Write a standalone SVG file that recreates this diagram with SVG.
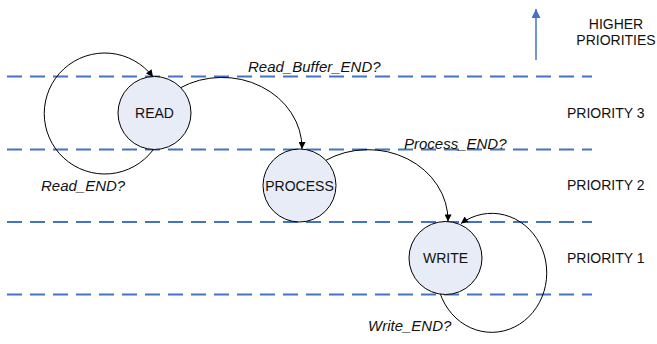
<svg xmlns="http://www.w3.org/2000/svg" width="657" height="344" viewBox="0 0 657 344">
<style>
.lvl{stroke:#4472c4;stroke-width:2;stroke-dasharray:15 8;fill:none}
.edge{stroke:#000;stroke-width:1;fill:none;marker-end:url(#ah)}
.node{fill:#e7ecf7;stroke:#000;stroke-width:1}
.t{font-family:"Liberation Sans",Arial,sans-serif;font-size:14px;fill:#111}
.lab{font-family:"Liberation Sans",Arial,sans-serif;font-size:15px;font-style:italic;fill:#111}
</style>
<defs>
<marker id="ah" viewBox="0 0 10 10" refX="10" refY="5" markerWidth="9" markerHeight="7" markerUnits="userSpaceOnUse" orient="auto">
<path d="M0,0 L10,5 L0,10 z" fill="#000"/>
</marker>
<marker id="bah" viewBox="0 0 10 10" refX="10" refY="5" markerWidth="12" markerHeight="9" markerUnits="userSpaceOnUse" orient="auto">
<path d="M0,0 L10,5 L0,10 z" fill="#4472c4"/>
</marker>
</defs>
<g id="levels">
<line class="lvl" x1="7" y1="76.5" x2="592" y2="76.5"/>
<line class="lvl" x1="7" y1="149.5" x2="592" y2="149.5"/>
<line class="lvl" x1="7" y1="222" x2="592" y2="222"/>
<line class="lvl" x1="7" y1="294.5" x2="592" y2="294.5"/>
</g>
<g id="priority-arrow">
<line x1="536" y1="60" x2="536" y2="9" stroke="#4472c4" stroke-width="1.5" marker-end="url(#bah)"/>
<text class="t" x="616" y="29" text-anchor="middle">HIGHER</text>
<text class="t" x="616" y="45" text-anchor="middle">PRIORITIES</text>
</g>
<g id="priority-labels">
<text class="t" x="567" y="118">PRIORITY 3</text>
<text class="t" x="567" y="190">PRIORITY 2</text>
<text class="t" x="567" y="263">PRIORITY 1</text>
</g>
<g id="connectors">
<path class="edge" d="M153,150 A60.5,60.5 0 1 1 153,77"/>
<path class="edge" d="M180,88 A80,71 0 0 1 302,149"/>
<path class="edge" d="M325.5,160.5 A80,71 0 0 1 448,221.5"/>
<path class="edge" d="M440,293 A55,59.5 0 1 0 461,223.5"/>
<text class="lab" x="41" y="191">Read_END?</text>
<text class="lab" x="248" y="72">Read_Buffer_END?</text>
<text class="lab" x="404" y="149">Process_END?</text>
<text class="lab" x="368" y="331">Write_END?</text>
</g>
<g id="node-read">
<circle class="node" cx="154.5" cy="113" r="36.5"/>
<text class="t" x="154.5" y="118" text-anchor="middle">READ</text>
</g>
<g id="node-process">
<circle class="node" cx="299.5" cy="185.5" r="36.5"/>
<text class="t" x="299.5" y="190.5" text-anchor="middle">PROCESS</text>
</g>
<g id="node-write">
<circle class="node" cx="445.5" cy="258" r="36.5"/>
<text class="t" x="445.5" y="263" text-anchor="middle">WRITE</text>
</g>
</svg>
